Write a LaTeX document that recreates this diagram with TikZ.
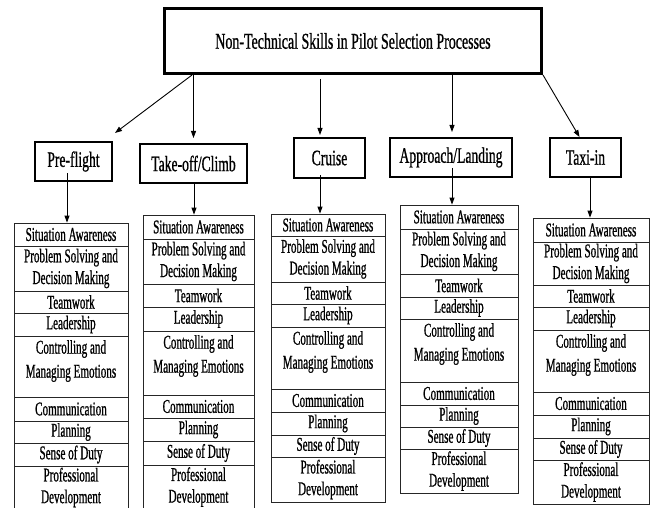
\documentclass[tikz,border=0pt]{standalone}
\usepackage{fontspec}
\setmainfont{Liberation Serif}
\newfontfamily\cf[FakeStretch=0.62,FakeBold=0.8]{Liberation Serif}
\newfontfamily\cfs[FakeStretch=0.57,FakeBold=0.8]{Liberation Serif}
\usetikzlibrary{arrows.meta,calc}
\tikzset{
  titlebox/.style={draw, line width=3pt, minimum width=377pt, minimum height=65pt, inner sep=0pt, font=\cf\fontsize{22.5}{26}\selectfont},
  stagebox/.style={draw, line width=2pt, inner sep=0pt, font=\cf\fontsize{22}{26}\selectfont},
  cell/.style={draw=black!85, line width=0.8pt, inner sep=0pt, align=center, font=\cfs\fontsize{19.5}{21.7}\selectfont},
  celltext/.style={inner sep=0pt, align=center, font=\cfs\fontsize{19.5}{24}\selectfont},
  arr/.style={line width=0.9pt, -{Triangle[length=7pt,width=5pt]}},
}
\newcommand\skillcol[4]{%
  \foreach \sktxt [count=\i from 0] in {Situation Awareness,{Problem Solving and\\Decision Making},Teamwork,Leadership,{Controlling and\\Managing Emotions},Communication,Planning,Sense of Duty,{Professional\\Development}}{%
    \pgfmathsetmacro\skt{{#4}[\i]}%
    \pgfmathsetmacro\skb{{#4}[\i+1]}%
    \pgfmathsetmacro\skx{(#2+#3)/2}%
    \pgfmathsetmacro\sky{(\skt+\skb)/2}%
    \pgfmathsetmacro\skw{#3-#2}%
    \pgfmathsetmacro\skh{\skb-\skt}%
    \ifnum\i=4
      \node[cell, minimum width=\skw pt, minimum height=\skh pt] (#1-\i) at (\skx,\sky) {};
      \node[celltext] (#1-t\i) at (\skx,\skt+25) {\sktxt};
    \else
      \node[cell, minimum width=\skw pt, minimum height=\skh pt] (#1-\i) at (\skx,\sky) {\sktxt};
    \fi
  }%
}
\begin{document}
\begin{tikzpicture}[x=1pt,y=-1pt]
\useasboundingbox (0,0) rectangle (656,508);
\node[titlebox] (title) at (353,41) {Non-Technical Skills in Pilot Selection Processes};
\node[stagebox, minimum width=77pt, minimum height=39pt] (pre) at (73.5,161.5) {Pre-flight};
\node[stagebox, minimum width=107pt, minimum height=39pt] (take) at (193.5,163.5) {Take-off/Climb};
\node[stagebox, minimum width=71pt, minimum height=40pt] (cruise) at (329.5,158) {Cruise};
\node[stagebox, minimum width=122pt, minimum height=39pt] (appr) at (451,157.5) {Approach/Landing};
\node[stagebox, minimum width=71pt, minimum height=39pt] (taxi) at (585.5,157.5) {Taxi-in};

\skillcol{c1}{14}{128}{223,246,291,313,336,397,421,443,466,509}
\skillcol{c2}{143}{254}{215,239,284,307,331,395,418,441,465,509}
\skillcol{c3}{271}{385}{214,236,282,304,327,389,412,435,457,502}
\skillcol{c4}{400}{518}{205,229,274,297,319,382,405,427,449,493}
\skillcol{c5}{533}{649}{218,242,285,307,330,392,415,438,460,504}

\draw[arr] ([xshift=29pt]title.south west) -- ([xshift=2pt,yshift=8pt]pre.north east);
\draw[arr] (take.north |- title.south) -- ([yshift=5pt]take.north);
\draw[arr] ($(cruise.north |- title.south)+(-9.5,4)$) -- ($(cruise.north)+(-9.5,-2)$);
\draw[arr] ($(appr.north |- title.south)+(1,0)$) -- ($(appr.north)+(1,-5)$);
\draw[arr] (title.south east) -- ($(taxi.north)+(-6,0)$);

\draw[arr] ($(pre.south)+(-6.5,-9)$) -- ($(c1-0.north)+(-4,0)$);
\draw[arr] ($(take.south)+(0.5,-1)$) -- ($(c2-0.north)+(-4.5,0)$);
\draw[arr] ($(cruise.south)+(-9.5,-4)$) -- ($(c3-0.north)+(-8,0)$);
\draw[arr] ($(appr.south)+(1,-10)$) -- ($(c4-0.north)+(-7,0)$);
\draw[arr] ($(taxi.south)+(4.5,0)$) -- ($(c5-0.north)+(-1,0)$);
\end{tikzpicture}
\end{document}
